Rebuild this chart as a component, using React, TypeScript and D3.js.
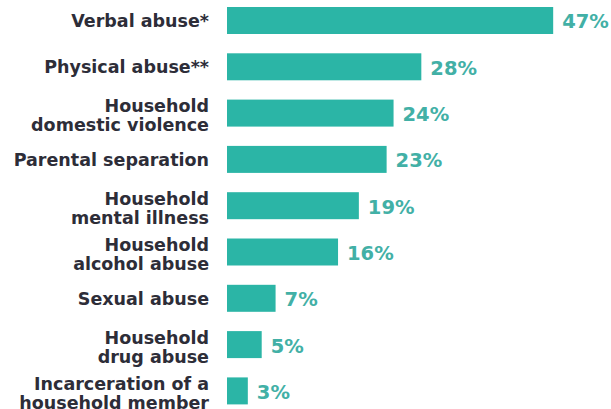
import React from "react";
import * as d3 from "d3";

const categories: string[][] = [
  ["Verbal abuse*"],
  ["Physical abuse**"],
  ["Household", "domestic violence"],
  ["Parental separation"],
  ["Household", "mental illness"],
  ["Household", "alcohol abuse"],
  ["Sexual abuse"],
  ["Household", "drug abuse"],
  ["Incarceration of a", "household member"],
];
const values: number[] = [47, 28, 24, 23, 19, 16, 7, 5, 3];

const W = 611;
const H = 409;
const BAR = "#2bb5a6";
const VAL = "#42b0a6";
const TXT = "#2d2d38";
const FONT = "'DejaVu Sans', sans-serif";

export default function App() {
  const keys = categories.map((c) => c.join(" "));
  const y = d3.scaleBand<string>().domain(keys).range([7, 404.4]).paddingInner(0.417).paddingOuter(0);
  const x = d3.scaleLinear().domain([0, 50]).range([227, 574]);
  const bw = y.bandwidth();

  return (
    <svg width={W} height={H} style={{ position: "absolute", left: 0, top: 0, background: "#fff" }}>
      {keys.map((k, i) => {
        const y0 = y(k)!;
        const cy = y0 + bw / 2;
        const lines = categories[i];
        return (
          <g key={k}>
            <rect x={x(0)} y={y0} width={x(values[i]) - x(0)} height={bw} fill={BAR} />
            <text
              x={x(values[i]) + 9}
              y={cy + 8}
              fill={VAL}
              fontFamily={FONT}
              fontWeight="bold"
              fontSize={19.5}
            >
              {values[i]}%
            </text>
            {lines.map((ln, j) => (
              <text
                key={j}
                x={209}
                y={lines.length === 1 ? cy + 6.5 : cy - 1 + j * 19}
                textAnchor="end"
                fill={TXT}
                fontFamily={FONT}
                fontWeight="bold"
                fontSize={17.5}
              >
                {ln}
              </text>
            ))}
          </g>
        );
      })}
    </svg>
  );
}
